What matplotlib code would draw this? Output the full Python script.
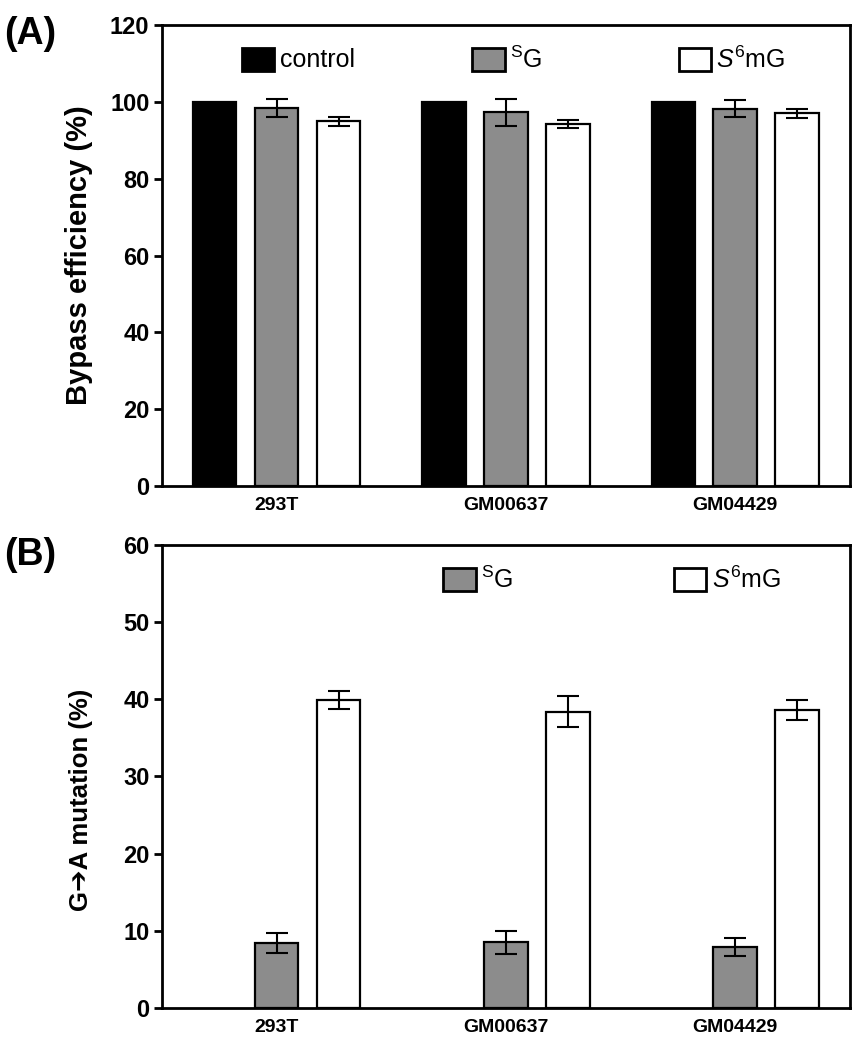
import numpy as np
import matplotlib
matplotlib.use("Agg")
import matplotlib.pyplot as plt
from matplotlib.patches import Rectangle

plt.rcParams['font.family'] = ['Liberation Sans', 'DejaVu Sans']
plt.rcParams['mathtext.fontset'] = 'custom'
plt.rcParams['mathtext.rm'] = 'Liberation Sans'
plt.rcParams['mathtext.it'] = 'Liberation Sans:italic'

cell_lines = ['293T', 'GM00637', 'GM04429']

# panel A: bypass efficiency (%)
bypass_control = [100, 100, 100]
bypass_sg = [98.5, 97.3, 98.2]
bypass_sg_err = [2.3, 3.5, 2.2]
bypass_s6mg = [95.0, 94.2, 97.0]
bypass_s6mg_err = [1.2, 1.1, 1.2]

# panel B: G->A mutation (%)
mut_sg = [8.4, 8.5, 7.9]
mut_sg_err = [1.3, 1.5, 1.2]
mut_s6mg = [39.9, 38.4, 38.6]
mut_s6mg_err = [1.2, 2.0, 1.3]

GRAY = '#8c8c8c'
lab_sg = r'$^{\mathrm{S}}$G'
lab_s6mg = r'$\mathit{S}^{6}$mG'

x = np.arange(len(cell_lines))
off = 0.27
w = 0.19

fig = plt.figure(figsize=(8.68, 10.5), dpi=100)
axA = fig.add_axes([0.1866, 0.5371, 0.7926, 0.439])
axB = fig.add_axes([0.1866, 0.040, 0.7926, 0.441])

bar_kw = dict(width=w, edgecolor='black', linewidth=1.6, zorder=2)
err_kw = dict(fmt='none', ecolor='black', elinewidth=1.5, capsize=8, capthick=1.5, zorder=3)

axA.bar(x - off, bypass_control, color='black', **bar_kw)
axA.bar(x, bypass_sg, color=GRAY, **bar_kw)
axA.bar(x + off, bypass_s6mg, color='white', **bar_kw)
axA.errorbar(x, bypass_sg, yerr=bypass_sg_err, **err_kw)
axA.errorbar(x + off, bypass_s6mg, yerr=bypass_s6mg_err, **err_kw)
axA.set_ylim(0, 120)
axA.set_yticks(range(0, 121, 20))
axA.set_ylabel('Bypass efficiency (%)', fontsize=21, fontweight='bold', labelpad=12)

axB.bar(x, mut_sg, color=GRAY, **bar_kw)
axB.bar(x + off, mut_s6mg, color='white', **bar_kw)
axB.errorbar(x, mut_sg, yerr=mut_sg_err, **err_kw)
axB.errorbar(x + off, mut_s6mg, yerr=mut_s6mg_err, **err_kw)
axB.set_ylim(0, 60)
axB.set_yticks(range(0, 61, 10))
axB.set_ylabel('G\u2794A mutation (%)', fontsize=18.5, fontweight='bold')
axB.yaxis.set_label_coords(-0.10, 0.45)

for ax in (axA, axB):
    ax.set_xlim(-0.5, 2.5)
    ax.set_xticks(x)
    ax.set_xticklabels(cell_lines, fontsize=14, fontweight='bold')
    ax.tick_params(axis='x', length=0, pad=8)
    ax.tick_params(axis='y', direction='out', length=6, width=2, labelsize=17, pad=3)
    for lbl in ax.get_yticklabels():
        lbl.set_fontweight('bold')
    for s in ax.spines.values():
        s.set_linewidth(2)


def legend_item(ax, xa, ya, color, text):
    # small square swatch plus label, placed in axes fraction
    ax.add_patch(Rectangle((xa, ya - 0.025), 0.047, 0.05, transform=ax.transAxes,
                           facecolor=color, edgecolor='black', linewidth=2, clip_on=False))
    ax.text(xa + 0.055, ya, text, transform=ax.transAxes, fontsize=18,
            va='center', ha='left')


legend_item(axA, 0.116, 0.925, 'black', 'control')
legend_item(axA, 0.451, 0.925, GRAY, lab_sg)
legend_item(axA, 0.751, 0.925, 'white', lab_s6mg)

legend_item(axB, 0.409, 0.925, GRAY, lab_sg)
legend_item(axB, 0.744, 0.925, 'white', lab_s6mg)

fig.text(0.005, 0.968, '(A)', fontsize=27, fontweight='bold', va='center', ha='left')
fig.text(0.005, 0.471, '(B)', fontsize=27, fontweight='bold', va='center', ha='left')

fig.savefig('out.png', dpi=100)
